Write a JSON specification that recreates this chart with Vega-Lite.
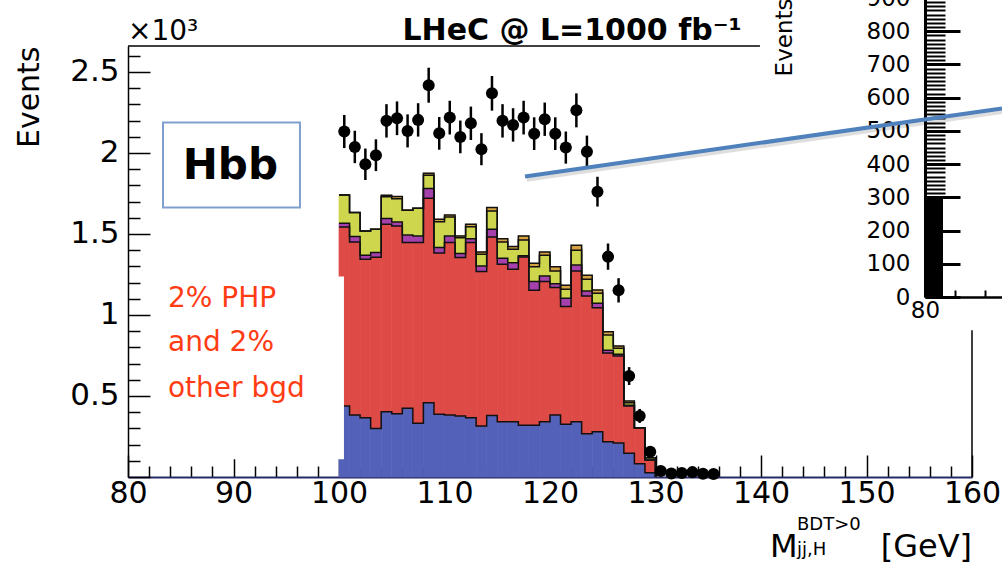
{
  "$schema": "https://vega.github.io/schema/vega-lite/v6.json",
  "width": 844,
  "height": 431,
  "autosize": {"type": "none"},
  "padding": {"left": 128, "top": 46, "right": 30, "bottom": 87},
  "background": "white",
  "config": {
    "view": {"stroke": null},
    "axis": {"grid": false, "labelFont": "DejaVu Sans", "titleFont": "DejaVu Sans", "labelColor": "black", "titleColor": "black", "tickColor": "black", "domainColor": "black", "labelOverlap": false, "labelFlush": false, "titleFontWeight": "normal"}
  },
  "datasets": {
    "hist": [
      {"lo": 100, "hi": 101, "a_blue": 438, "b_red": 1105, "c_purple": 23, "d_yellow": 175, "e_orange": 0},
      {"lo": 101, "hi": 102, "a_blue": 383, "b_red": 1068, "c_purple": 33, "d_yellow": 148, "e_orange": 0},
      {"lo": 102, "hi": 103, "a_blue": 366, "b_red": 978, "c_purple": 24, "d_yellow": 151, "e_orange": 0},
      {"lo": 103, "hi": 104, "a_blue": 300, "b_red": 1056, "c_purple": 29, "d_yellow": 144, "e_orange": 0},
      {"lo": 104, "hi": 105, "a_blue": 403, "b_red": 1157, "c_purple": 35, "d_yellow": 134, "e_orange": 10},
      {"lo": 105, "hi": 106, "a_blue": 391, "b_red": 1158, "c_purple": 25, "d_yellow": 144, "e_orange": 13},
      {"lo": 106, "hi": 107, "a_blue": 424, "b_red": 1023, "c_purple": 47, "d_yellow": 152, "e_orange": 0},
      {"lo": 107, "hi": 108, "a_blue": 331, "b_red": 1116, "c_purple": 41, "d_yellow": 170, "e_orange": 0},
      {"lo": 108, "hi": 109, "a_blue": 459, "b_red": 1261, "c_purple": 60, "d_yellow": 82, "e_orange": 13},
      {"lo": 109, "hi": 110, "a_blue": 387, "b_red": 996, "c_purple": 33, "d_yellow": 160, "e_orange": 15},
      {"lo": 110, "hi": 111, "a_blue": 383, "b_red": 1064, "c_purple": 41, "d_yellow": 117, "e_orange": 12},
      {"lo": 111, "hi": 112, "a_blue": 376, "b_red": 978, "c_purple": 25, "d_yellow": 98, "e_orange": 11},
      {"lo": 112, "hi": 113, "a_blue": 366, "b_red": 1081, "c_purple": 24, "d_yellow": 74, "e_orange": 15},
      {"lo": 113, "hi": 114, "a_blue": 315, "b_red": 953, "c_purple": 34, "d_yellow": 73, "e_orange": 14},
      {"lo": 114, "hi": 115, "a_blue": 380, "b_red": 1101, "c_purple": 48, "d_yellow": 113, "e_orange": 21},
      {"lo": 115, "hi": 116, "a_blue": 341, "b_red": 972, "c_purple": 37, "d_yellow": 101, "e_orange": 20},
      {"lo": 116, "hi": 117, "a_blue": 341, "b_red": 941, "c_purple": 41, "d_yellow": 82, "e_orange": 17},
      {"lo": 117, "hi": 118, "a_blue": 319, "b_red": 1039, "c_purple": 7, "d_yellow": 98, "e_orange": 25},
      {"lo": 118, "hi": 119, "a_blue": 319, "b_red": 833, "c_purple": 54, "d_yellow": 92, "e_orange": 21},
      {"lo": 119, "hi": 120, "a_blue": 341, "b_red": 865, "c_purple": 35, "d_yellow": 127, "e_orange": 21},
      {"lo": 120, "hi": 121, "a_blue": 383, "b_red": 786, "c_purple": 24, "d_yellow": 79, "e_orange": 26},
      {"lo": 121, "hi": 122, "a_blue": 325, "b_red": 727, "c_purple": 51, "d_yellow": 55, "e_orange": 25},
      {"lo": 122, "hi": 123, "a_blue": 341, "b_red": 931, "c_purple": 37, "d_yellow": 90, "e_orange": 31},
      {"lo": 123, "hi": 124, "a_blue": 267, "b_red": 850, "c_purple": 31, "d_yellow": 72, "e_orange": 25},
      {"lo": 124, "hi": 125, "a_blue": 280, "b_red": 765, "c_purple": 27, "d_yellow": 62, "e_orange": 20},
      {"lo": 125, "hi": 126, "a_blue": 218, "b_red": 547, "c_purple": 17, "d_yellow": 95, "e_orange": 20},
      {"lo": 126, "hi": 127, "a_blue": 210, "b_red": 537, "c_purple": 10, "d_yellow": 37, "e_orange": 15},
      {"lo": 127, "hi": 128, "a_blue": 146, "b_red": 292, "c_purple": 5, "d_yellow": 16, "e_orange": 10},
      {"lo": 128, "hi": 129, "a_blue": 82, "b_red": 222, "c_purple": 0, "d_yellow": 0, "e_orange": 0},
      {"lo": 129, "hi": 130, "a_blue": 27, "b_red": 78, "c_purple": 0, "d_yellow": 14, "e_orange": 0},
      {"lo": 130, "hi": 130, "a_blue": 0, "b_red": 0, "c_purple": 0, "d_yellow": 0, "e_orange": 0}
    ],
    "pts": [
      {"m": 100.5, "n": 2132, "e": 102}, {"m": 101.5, "n": 2037, "e": 100}, {"m": 102.5, "n": 1930, "e": 97},
      {"m": 103.5, "n": 1986, "e": 98}, {"m": 104.5, "n": 2198, "e": 103}, {"m": 105.5, "n": 2214, "e": 104},
      {"m": 106.5, "n": 2136, "e": 102}, {"m": 107.5, "n": 2204, "e": 103}, {"m": 108.5, "n": 2418, "e": 108},
      {"m": 109.5, "n": 2121, "e": 101}, {"m": 110.5, "n": 2218, "e": 104}, {"m": 111.5, "n": 2099, "e": 101},
      {"m": 112.5, "n": 2183, "e": 103}, {"m": 113.5, "n": 2023, "e": 99}, {"m": 114.5, "n": 2368, "e": 107},
      {"m": 115.5, "n": 2198, "e": 103}, {"m": 116.5, "n": 2173, "e": 103}, {"m": 117.5, "n": 2218, "e": 104},
      {"m": 118.5, "n": 2119, "e": 101}, {"m": 119.5, "n": 2208, "e": 103}, {"m": 120.5, "n": 2119, "e": 101},
      {"m": 121.5, "n": 2033, "e": 99}, {"m": 122.5, "n": 2263, "e": 105}, {"m": 123.5, "n": 2008, "e": 99},
      {"m": 124.5, "n": 1761, "e": 92}, {"m": 125.5, "n": 1360, "e": 81}, {"m": 126.5, "n": 1152, "e": 75},
      {"m": 127.5, "n": 623, "e": 55}, {"m": 128.5, "n": 377, "e": 43}, {"m": 129.5, "n": 156, "e": 27},
      {"m": 130.5, "n": 37, "e": 13}, {"m": 131.5, "n": 22, "e": 10}, {"m": 132.5, "n": 25, "e": 11},
      {"m": 133.5, "n": 30, "e": 12}, {"m": 134.5, "n": 20, "e": 10}, {"m": 135.5, "n": 18, "e": 9}
    ],
    "one": [{}]
  },
  "layer": [
    {
      "data": {"name": "hist"},
      "transform": [
        {"fold": ["a_blue", "b_red", "c_purple", "d_yellow", "e_orange"], "as": ["c", "v"]},
        {"stack": "v", "groupby": ["lo"], "sort": [{"field": "c", "order": "ascending"}], "as": ["v0", "v1"]}
      ],
      "mark": {"type": "rect", "strokeWidth": 0.7},
      "encoding": {
        "x": {"field": "lo", "type": "quantitative", "scale": {"domain": [80, 160], "nice": false, "zero": false},
          "axis": {"orient": "bottom", "title": null, "values": [80,82,84,86,88,90,92,94,96,98,100,102,104,106,108,110,112,114,116,118,120,122,124,126,128,130,132,134,136,138,140,142,144,146,148,150,152,154,156,158,160],
            "tickSize": {"condition": {"test": "datum.value % 10 === 0", "value": -22}, "value": -11},
            "tickWidth": 1.5, "labelExpr": "datum.value % 10 === 0 ? datum.label : ''", "labelFontSize": 30, "labelPadding": 23, "labelBaseline": "top", "domainWidth": 2, "domainColor": "#262a66"}},
        "x2": {"field": "hi"},
        "y": {"field": "v1", "type": "quantitative", "scale": {"domain": [0, 2660], "nice": false, "zero": false},
          "axis": {"orient": "left", "title": "Events", "titleFontSize": 30, "titleAnchor": "end", "titlePadding": 25,
            "values": [0,100,200,300,400,500,600,700,800,900,1000,1100,1200,1300,1400,1500,1600,1700,1800,1900,2000,2100,2200,2300,2400,2500,2600],
            "tickSize": {"condition": {"test": "datum.value % 500 === 0", "value": -22}, "value": -12},
            "tickWidth": 1.5, "labelExpr": "datum.value > 0 && datum.value % 500 === 0 ? toString(datum.value / 1000) : ''", "labelFontSize": 31, "labelPadding": 31, "domainWidth": 1.5}},
        "y2": {"field": "v0"},
        "color": {"field": "c", "type": "nominal", "legend": null,
          "scale": {"domain": ["a_blue", "b_red", "c_purple", "d_yellow", "e_orange"], "range": ["#5461b8", "#de4a46", "#a640ad", "#cdd64c", "#d6a143"]}},
        "stroke": {"field": "c", "type": "nominal", "legend": null,
          "scale": {"domain": ["a_blue", "b_red", "c_purple", "d_yellow", "e_orange"], "range": ["#5461b8", "#de4a46", "#a640ad", "#cdd64c", "#d6a143"]}}
      }
    },
    {
      "data": {"name": "hist"},
      "transform": [
        {"fold": ["a_blue", "b_red", "c_purple", "d_yellow", "e_orange"], "as": ["c", "v"]},
        {"stack": "v", "groupby": ["lo"], "sort": [{"field": "c", "order": "ascending"}], "as": ["v0", "v1"]}
      ],
      "mark": {"type": "line", "interpolate": "step-after", "color": "#111111", "strokeWidth": 1.5},
      "encoding": {
        "x": {"field": "lo", "type": "quantitative", "scale": {"domain": [80, 160], "nice": false, "zero": false}, "axis": null},
        "y": {"field": "v1", "type": "quantitative", "scale": {"domain": [0, 2660], "nice": false, "zero": false}, "axis": null},
        "detail": {"field": "c"}
      }
    },
    {
      "data": {"name": "one"},
      "mark": {"type": "rect", "fill": "white"},
      "encoding": {
        "x": {"datum": 83.0, "type": "quantitative", "scale": {"domain": [80, 160], "nice": false, "zero": false}, "axis": null},
        "x2": {"datum": 100.47},
        "y": {"datum": 109, "type": "quantitative", "scale": {"domain": [0, 2660], "nice": false, "zero": false}, "axis": null},
        "y2": {"datum": 1238}
      }
    },
    {
      "data": {"name": "pts"},
      "mark": {"type": "errorbar", "ticks": false, "color": "black", "thickness": 2.5},
      "encoding": {
        "x": {"field": "m", "type": "quantitative", "scale": {"domain": [80, 160], "nice": false, "zero": false}, "axis": null},
        "y": {"field": "n", "type": "quantitative", "scale": {"domain": [0, 2660], "nice": false, "zero": false}, "axis": null},
        "yError": {"field": "e"}
      }
    },
    {
      "data": {"name": "pts"},
      "mark": {"type": "point", "filled": true, "shape": "circle", "size": 145, "color": "black", "opacity": 1},
      "encoding": {
        "x": {"field": "m", "type": "quantitative", "scale": {"domain": [80, 160], "nice": false, "zero": false}, "axis": null},
        "y": {"field": "n", "type": "quantitative", "scale": {"domain": [0, 2660], "nice": false, "zero": false}, "axis": null}
      }
    },
    {
      "data": {"name": "one"},
      "mark": {"type": "rule", "color": "black", "strokeWidth": 1.5},
      "encoding": {
        "x": {"datum": 80, "type": "quantitative", "scale": {"domain": [80, 160], "nice": false, "zero": false}, "axis": null},
        "x2": {"datum": 139.9},
        "y": {"datum": 2660, "type": "quantitative", "scale": {"domain": [0, 2660], "nice": false, "zero": false}, "axis": null}
      }
    },
    {
      "data": {"name": "one"},
      "mark": {"type": "rule", "color": "black", "strokeWidth": 1.5},
      "encoding": {
        "x": {"datum": 160, "type": "quantitative", "scale": {"domain": [80, 160], "nice": false, "zero": false}, "axis": null},
        "y": {"datum": 0, "type": "quantitative", "scale": {"domain": [0, 2660], "nice": false, "zero": false}, "axis": null},
        "y2": {"datum": 905}
      }
    },
    {
      "data": {"name": "one"},
      "mark": {"type": "rect", "fillOpacity": 0, "stroke": "#7f9fcf", "strokeWidth": 2},
      "encoding": {
        "x": {"datum": 83.32, "type": "quantitative", "scale": {"domain": [80, 160], "nice": false, "zero": false}, "axis": null},
        "x2": {"datum": 96.3},
        "y": {"datum": 1663, "type": "quantitative", "scale": {"domain": [0, 2660], "nice": false, "zero": false}, "axis": null},
        "y2": {"datum": 2188}
      }
    },
    {
      "data": {"name": "one"},
      "mark": {"type": "text", "text": "Hbb", "font": "DejaVu Sans", "fontWeight": "bold", "fontSize": 42, "align": "center", "baseline": "middle", "color": "black"},
      "encoding": {
        "x": {"datum": 89.7, "type": "quantitative", "scale": {"domain": [80, 160], "nice": false, "zero": false}, "axis": null},
        "y": {"datum": 1917, "type": "quantitative", "scale": {"domain": [0, 2660], "nice": false, "zero": false}, "axis": null}
      }
    },
    {
      "data": {"name": "one"},
      "mark": {"type": "text", "text": "2% PHP", "font": "DejaVu Sans", "fontSize": 28, "align": "left", "baseline": "middle", "color": "#ff3c14"},
      "encoding": {
        "x": {"datum": 83.79, "type": "quantitative", "scale": {"domain": [80, 160], "nice": false, "zero": false}, "axis": null},
        "y": {"datum": 1101, "type": "quantitative", "scale": {"domain": [0, 2660], "nice": false, "zero": false}, "axis": null}
      }
    },
    {
      "data": {"name": "one"},
      "mark": {"type": "text", "text": "and 2%", "font": "DejaVu Sans", "fontSize": 28, "align": "left", "baseline": "middle", "color": "#ff3c14"},
      "encoding": {
        "x": {"datum": 83.79, "type": "quantitative", "scale": {"domain": [80, 160], "nice": false, "zero": false}, "axis": null},
        "y": {"datum": 824, "type": "quantitative", "scale": {"domain": [0, 2660], "nice": false, "zero": false}, "axis": null}
      }
    },
    {
      "data": {"name": "one"},
      "mark": {"type": "text", "text": "other bgd", "font": "DejaVu Sans", "fontSize": 28, "align": "left", "baseline": "middle", "color": "#ff3c14"},
      "encoding": {
        "x": {"datum": 83.79, "type": "quantitative", "scale": {"domain": [80, 160], "nice": false, "zero": false}, "axis": null},
        "y": {"datum": 546, "type": "quantitative", "scale": {"domain": [0, 2660], "nice": false, "zero": false}, "axis": null}
      }
    },
    {
      "data": {"name": "one"},
      "mark": {"type": "text", "text": "×10³", "font": "DejaVu Sans", "fontSize": 28, "align": "left", "baseline": "alphabetic", "color": "black"},
      "encoding": {
        "x": {"datum": 80, "type": "quantitative", "scale": {"domain": [80, 160], "nice": false, "zero": false}, "axis": null},
        "y": {"datum": 2694, "type": "quantitative", "scale": {"domain": [0, 2660], "nice": false, "zero": false}, "axis": null}
      }
    },
    {
      "data": {"name": "one"},
      "mark": {"type": "text", "text": "LHeC @ L=1000 fb⁻¹", "font": "DejaVu Sans", "fontWeight": "bold", "fontSize": 30, "align": "center", "baseline": "alphabetic", "color": "black"},
      "encoding": {
        "x": {"datum": 122.09, "type": "quantitative", "scale": {"domain": [80, 160], "nice": false, "zero": false}, "axis": null},
        "y": {"datum": 2694, "type": "quantitative", "scale": {"domain": [0, 2660], "nice": false, "zero": false}, "axis": null}
      }
    },
    {
      "data": {"name": "one"},
      "mark": {"type": "text", "text": "M", "font": "DejaVu Sans", "fontSize": 32, "align": "left", "baseline": "alphabetic", "color": "black"},
      "encoding": {
        "x": {"datum": 140.85, "type": "quantitative", "scale": {"domain": [80, 160], "nice": false, "zero": false}, "axis": null},
        "y": {"datum": -495, "type": "quantitative", "scale": {"domain": [0, 2660], "nice": false, "zero": false}, "axis": null}
      }
    },
    {
      "data": {"name": "one"},
      "mark": {"type": "text", "text": "BDT>0", "font": "DejaVu Sans", "fontSize": 18, "align": "left", "baseline": "alphabetic", "color": "black"},
      "encoding": {
        "x": {"datum": 143.41, "type": "quantitative", "scale": {"domain": [80, 160], "nice": false, "zero": false}, "axis": null},
        "y": {"datum": -329, "type": "quantitative", "scale": {"domain": [0, 2660], "nice": false, "zero": false}, "axis": null}
      }
    },
    {
      "data": {"name": "one"},
      "mark": {"type": "text", "text": "jj,H", "font": "DejaVu Sans", "fontSize": 18, "align": "left", "baseline": "alphabetic", "color": "black"},
      "encoding": {
        "x": {"datum": 143.41, "type": "quantitative", "scale": {"domain": [80, 160], "nice": false, "zero": false}, "axis": null},
        "y": {"datum": -480, "type": "quantitative", "scale": {"domain": [0, 2660], "nice": false, "zero": false}, "axis": null}
      }
    },
    {
      "data": {"name": "one"},
      "mark": {"type": "text", "text": "[GeV]", "font": "DejaVu Sans", "fontSize": 32, "align": "right", "baseline": "alphabetic", "color": "black"},
      "encoding": {
        "x": {"datum": 160, "type": "quantitative", "scale": {"domain": [80, 160], "nice": false, "zero": false}, "axis": null},
        "y": {"datum": -495, "type": "quantitative", "scale": {"domain": [0, 2660], "nice": false, "zero": false}, "axis": null}
      }
    },
    {
      "data": {"name": "one"},
      "mark": {"type": "rule", "color": "black", "opacity": 0.13, "strokeWidth": 5},
      "encoding": {
        "x": {"datum": 117.8, "type": "quantitative", "scale": {"domain": [80, 160], "nice": false, "zero": false}, "axis": null},
        "y": {"datum": 1838, "type": "quantitative", "scale": {"domain": [0, 2660], "nice": false, "zero": false}, "axis": null},
        "x2": {"datum": 163},
        "y2": {"datum": 2258}
      }
    },
    {
      "data": {"name": "one"},
      "mark": {"type": "rule", "color": "#4f81bd", "strokeWidth": 4},
      "encoding": {
        "x": {"datum": 117.63, "type": "quantitative", "scale": {"domain": [80, 160], "nice": false, "zero": false}, "axis": null},
        "y": {"datum": 1855, "type": "quantitative", "scale": {"domain": [0, 2660], "nice": false, "zero": false}, "axis": null},
        "x2": {"datum": 162.84},
        "y2": {"datum": 2275}
      }
    },
    {
      "data": {"name": "one"},
      "mark": {"type": "rect", "color": "black"},
      "encoding": {
        "x": {"datum": 80, "type": "quantitative", "scale": {"domain": [80, 84], "range": [797, 917], "nice": false, "zero": false},
          "axis": {"orient": "bottom", "offset": -180, "title": null, "values": [80, 81, 82, 83], "tickSize": -7, "tickWidth": 2,
            "labelExpr": "datum.value === 80 ? '80' : ''", "labelFontSize": 23, "labelPadding": 9, "labelBaseline": "top", "domainWidth": 2.5}},
        "x2": {"datum": 80.6},
        "y": {"datum": 0, "type": "quantitative", "scale": {"domain": [0, 900], "range": [251, -48], "nice": false, "zero": false},
          "axis": {"orient": "left", "offset": -797, "title": "Events", "titleFontSize": 23, "titleAnchor": "end", "titlePadding": 70,
            "values": [0,100,200,300,312.5,325,337.5,350,362.5,375,387.5,400,412.5,425,437.5,450,462.5,475,487.5,500,512.5,525,537.5,550,562.5,575,587.5,600,612.5,625,637.5,650,662.5,675,687.5,700,712.5,725,737.5,750,762.5,775,787.5,800,812.5,825,837.5,850,862.5,875,887.5,900],
            "tickSize": {"condition": {"test": "datum.value % 100 === 0", "value": -35}, "value": -20},
            "tickWidth": {"condition": {"test": "datum.value % 100 === 0", "value": 3}, "value": 2},
            "labelExpr": "datum.value % 100 === 0 ? datum.label : ''", "labelFontSize": 23, "labelPadding": 50, "domainWidth": 3}},
        "y2": {"datum": 300}
      }
    }
  ],
  "resolve": {"scale": {"x": "independent", "y": "independent"}, "axis": {"x": "independent", "y": "independent"}}
}
